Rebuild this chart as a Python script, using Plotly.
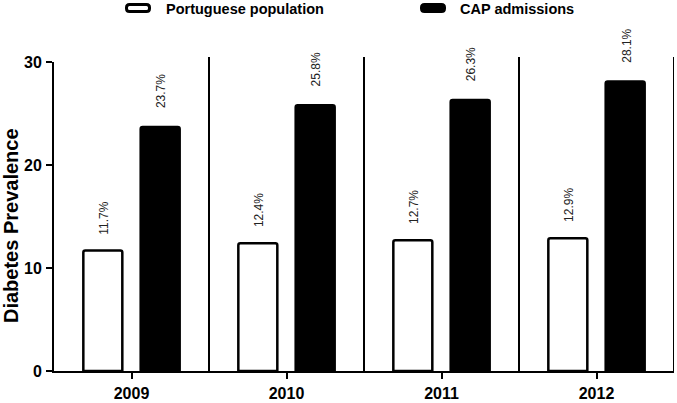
import plotly.graph_objects as go

# ---- data ----
years = ["2009", "2010", "2011", "2012"]
portuguese_population = [11.7, 12.4, 12.7, 12.9]
cap_admissions = [23.7, 25.8, 26.3, 28.1]
y_ticks = [0, 10, 20, 30]
series_names = ["Portuguese population", "CAP admissions"]
y_title = "Diabetes Prevalence"

# ---- layout geometry ----
W, H = 677, 403
ML, MR, MT, MB = 54, 3, 62, 32
PW, PH = W - ML - MR, H - MT - MB
FONT = "Arial, Liberation Sans, sans-serif"
BARGAP, BARGROUPGAP = 0.26, 0.32


def px_x(px):
    return (px - ML) / PW


def px_y(py):
    return (H - MB - py) / PH


def rounded_rect(x0, y0, x1, y1, r):
    X, Y = px_x, px_y
    return (f"M {X(x0 + r)},{Y(y0)} L {X(x1 - r)},{Y(y0)} "
            f"Q {X(x1)},{Y(y0)} {X(x1)},{Y(y0 + r)} L {X(x1)},{Y(y1 - r)} "
            f"Q {X(x1)},{Y(y1)} {X(x1 - r)},{Y(y1)} L {X(x0 + r)},{Y(y1)} "
            f"Q {X(x0)},{Y(y1)} {X(x0)},{Y(y1 - r)} L {X(x0)},{Y(y0 + r)} "
            f"Q {X(x0)},{Y(y0)} {X(x0 + r)},{Y(y0)} Z")


fig = go.Figure()
fig.add_bar(x=years, y=portuguese_population, name=series_names[0],
            marker=dict(color="white", line=dict(color="black", width=2.5), cornerradius=2))
fig.add_bar(x=years, y=cap_admissions, name=series_names[1],
            marker=dict(color="black", line=dict(color="black", width=2.5), cornerradius=2))

# value labels above bars
off = (1 - BARGAP) / 4
for i, (a, b) in enumerate(zip(portuguese_population, cap_admissions)):
    for xpos, v, shift in ((i - off, a, 14), (i + off, b, 17)):
        fig.add_annotation(x=xpos, y=v, xref="x", yref="y", text=f"{v:.1f}%",
                           textangle=-90, showarrow=False, yanchor="bottom", yshift=shift,
                           xshift=1, font=dict(size=12, color="#222", family=FONT))

# group separators
for i in range(1, len(years) + 1):
    fig.add_shape(type="line", xref="x", yref="paper", x0=i - 0.5, x1=i - 0.5,
                  y0=0, y1=1 + 5 / PH, line=dict(color="black", width=2))

# manual legend
legend_items = [(125, 151, 164, "white"), (420, 446, 458, "black")]
for (sx0, sx1, tx, col), name in zip(legend_items, series_names):
    fig.add_shape(type="path", xref="paper", yref="paper",
                  path=rounded_rect(sx0 + 1.5, 4.5, sx1 - 1.5, 11.5, 3),
                  fillcolor=col, line=dict(color="black", width=3))
    fig.add_annotation(x=px_x(tx), y=px_y(8.5), xref="paper", yref="paper", text=name,
                       showarrow=False, xanchor="left", yanchor="middle",
                       font=dict(size=14.5, color="black", family=FONT, weight="bold"))

# y-axis title
fig.add_annotation(x=px_x(11), y=px_y(226), xref="paper", yref="paper", text=y_title,
                   textangle=-90, showarrow=False, xanchor="center", yanchor="middle",
                   font=dict(size=20, color="black", family=FONT, weight="bold"))

axis_common = dict(showline=True, linecolor="black", linewidth=2, ticks="outside",
                   ticklen=6, tickwidth=2, tickcolor="black", showgrid=False, zeroline=False,
                   automargin=False,
                   tickfont=dict(size=16, color="black", family=FONT, weight="bold"))

fig.update_layout(
    width=W, height=H, margin=dict(l=ML, r=MR, t=MT, b=MB),
    barmode="group", bargap=BARGAP, bargroupgap=BARGROUPGAP,
    plot_bgcolor="white", paper_bgcolor="white", showlegend=False,
    xaxis=dict(type="category", range=[-0.5, len(years) - 0.5], ticklabelstandoff=1, **axis_common),
    yaxis=dict(range=[0, 30], tickvals=y_ticks, ticklabelstandoff=1, **axis_common),
)

fig.write_html("out.html", config={"displayModeBar": False},
               post_script="document.body.style.margin='0';document.body.style.padding='0';")
